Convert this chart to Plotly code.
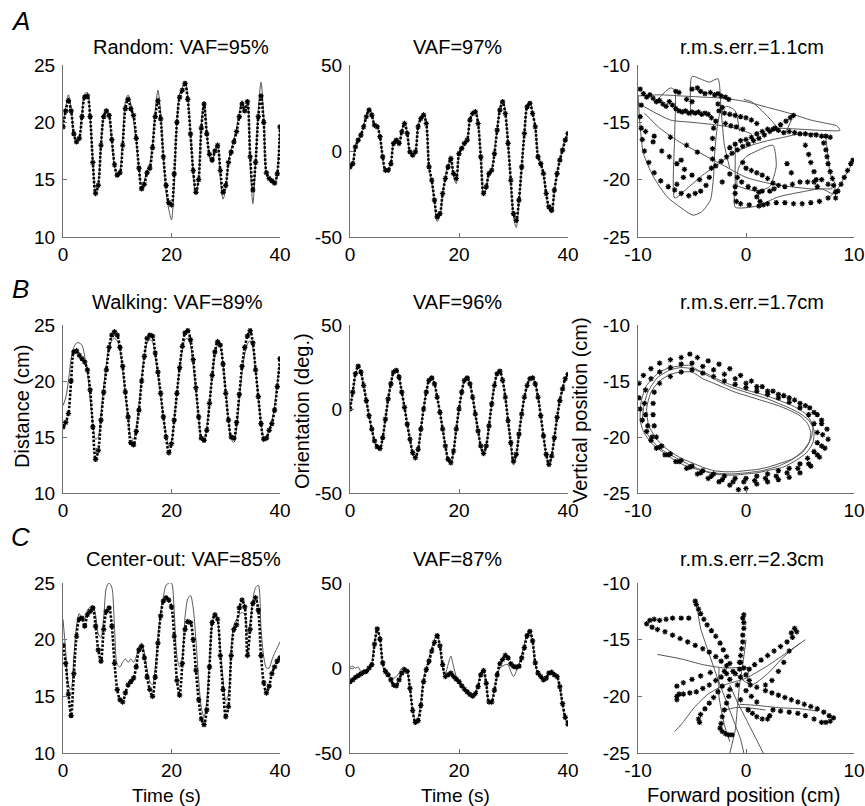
import plotly.graph_objects as go

# ---------------- DATA ----------------
TIME = [0, 0.5, 1, 1.5, 2, 2.5, 3, 3.5, 4, 4.5, 5, 5.5, 6, 6.5, 7, 7.5, 8, 8.5, 9, 9.5,
        10, 10.5, 11, 11.5, 12, 12.5, 13, 13.5, 14, 14.5, 15, 15.5, 16, 16.5, 17, 17.5, 18, 18.5, 19, 19.5,
        20, 20.5, 21, 21.5, 22, 22.5, 23, 23.5, 24, 24.5, 25, 25.5, 26, 26.5, 27, 27.5, 28, 28.5, 29, 29.5,
        30, 30.5, 31, 31.5, 32, 32.5, 33, 33.5, 34, 34.5, 35, 35.5, 36, 36.5, 37, 37.5, 38, 38.5, 39, 39.5, 40]

# Row A (Random) - distance (cm)
a_dist_meas = [19.6, 21.0, 21.9, 21.0, 19.0, 18.3, 18.6, 20.5, 22.2, 22.3, 20.5, 16.5, 13.8, 14.5, 18.0, 20.5, 21.0, 20.6, 18.5, 16.3,
               15.4, 15.6, 18.0, 21.2, 22.0, 21.2, 20.6, 18.6, 16.0, 14.2, 14.6, 15.6, 16.0, 17.8, 20.5, 21.9, 20.3, 17.0, 14.5, 13.0,
               12.8, 15.5, 20.0, 22.2, 22.8, 23.4, 22.0, 19.0, 15.8, 13.9, 15.0, 19.5, 21.6, 19.0, 17.2, 16.7, 17.5, 18.0, 15.8, 13.9,
               14.5, 16.5, 17.4, 18.3, 19.2, 20.5, 21.6, 21.0, 21.8, 17.0, 14.1, 16.5, 20.5, 22.3, 20.0, 15.6, 15.1, 14.9, 14.7, 15.5, 19.6]
a_dist_model = [19.8, 21.3, 22.4, 21.2, 19.0, 18.3, 18.7, 20.8, 22.5, 22.6, 20.5, 16.5, 14.0, 14.8, 18.0, 20.5, 21.1, 20.5, 18.3, 16.2,
                15.5, 15.8, 18.5, 21.8, 22.4, 21.6, 20.2, 18.4, 16.0, 14.5, 14.9, 15.9, 16.4, 18.0, 21.0, 22.8, 20.8, 17.0, 14.0, 12.4,
                11.5, 14.8, 20.2, 22.5, 23.0, 23.6, 22.2, 19.0, 15.5, 13.8, 15.2, 19.8, 21.8, 19.2, 17.0, 16.5, 17.6, 17.8, 15.2, 13.3,
                14.2, 16.6, 17.6, 18.5, 19.5, 20.8, 21.9, 21.2, 21.6, 16.5, 12.9, 16.5, 21.0, 23.5, 20.5, 15.4, 15.0, 14.8, 14.6, 15.6, 19.8]
# Row A - orientation (deg.)
a_ori_meas = [-9.2, -7.3, 2.4, 6.3, 9.2, 14.1, 19.9, 23.8, 20.9, 15.0, 14.1, 8.3, -3.4, -11.2, -11.2, -7.3, 4.4, 6.3, 4.4, 11.2,
              16.0, 10.2, -0.5, -2.4, -0.5, 14.1, 18.9, 20.9, 16.0, -9.2, -17.0, -28.6, -38.3, -36.4, -24.7, -16.0, -9.2, -4.4, -13.1, -16.0,
              -1.5, 1.5, 4.4, 6.3, 18.0, 21.8, 22.8, 16.0, -3.4, -24.7, -20.9, -13.1, -11.2, -1.5, 12.1, 23.8, 28.6, 21.8, 4.4, -17.0,
              -36.4, -40.3, -28.6, -9.2, 10.2, 25.7, 27.7, 21.8, 14.1, -3.4, -7.3, -13.1, -24.7, -32.5, -34.5, -22.8, -13.1, -5.3, 0.5, 6.3, 10.2]
a_ori_model = [-9.0, -7.0, 2.8, 6.8, 9.8, 14.8, 20.8, 24.8, 21.5, 15.5, 14.5, 8.0, -3.8, -11.8, -11.5, -7.0, 5.0, 6.8, 4.8, 11.8,
               16.8, 10.5, -1.0, -2.8, 0.0, 14.8, 19.5, 22.0, 16.5, -9.8, -18.0, -30.0, -41.0, -37.5, -25.0, -15.5, -8.5, -5.5, -15.0, -19.0,
               -2.5, 1.8, 4.8, 7.0, 18.5, 22.5, 23.5, 16.2, -4.0, -26.0, -21.0, -13.5, -11.0, -1.0, 12.8, 24.8, 30.0, 22.5, 4.0, -18.0,
               -38.0, -44.5, -29.5, -9.0, 11.0, 26.5, 29.0, 22.5, 14.0, -3.0, -7.5, -13.5, -25.5, -34.0, -36.0, -23.5, -13.0, -5.0, 1.0, 7.0, 11.0]
# Row A - trajectory (cm)
a_traj_meas_x = [-9.8, -9.5, -9.2, -8.9, -8.6, -8.3, -8.0, -7.7, -7.4, -7.1, -6.8, -6.5, -6.2, -5.9, -5.6, -5.3, -5.0, -4.7, -4.4, -4.1, -3.8, -3.5, -3.2,
                 -6.5, -6.2, -5.0, -4.5, -4.2, -3.8, -3.3, -2.9, -2.6, -2.3, -1.9, -1.6, -5.5, -5.0,
                 -9.7, -9.8, -9.7, -9.6, -9.4, -9.0, -8.5, -7.9, -7.2, -6.6, -6.0, -5.3, -4.7, -4.2, -3.7, -3.4, -3.2, -3.1, -3.1, -3.1, -3.0, -2.8,
                 -9.3, -8.6, -7.8, -7.1, -6.4, -5.7, -5.0, -4.3,
                 -8.5, -7.0, -6.0, -5.5, -4.5, -5.8, -6.4,
                 -2.8, -2.3, -1.8, -1.3, -0.8, -0.3, 0.2, 0.7, 1.2, 1.7, 2.2, 2.7, 3.2, 3.7, 4.1, 4.4,
                 -1.5, -1.0, -0.5, 0.0, 0.5, 1.0, 1.5, 2.0, 2.5, 3.0,
                 3.5, 4.0, 4.5, 5.0, 5.5, 6.0, 6.5, 7.0, 7.4, 7.8,
                 7.2, 7.4, 7.5, 7.6, 7.8, 8.0, 8.1, 8.3, 8.3,
                 8.8, 9.1, 9.4, 9.7, 9.9, 8.5,
                 5.5, 5.8, 6.0, 6.3, 6.5, 6.6, 3.8, 4.2,
                 -1.0, -1.0, -0.9, -0.5, 0.3, 1.2, 2.0, 2.8, 3.6, 4.4, 5.2, 6.0, 6.8, 7.6,
                 0.0, 0.5, 1.0, 1.5, 2.0, 2.5, 2.6, 2.2, 1.5, 0.8, 0.2, -0.4, -0.8,
                 1.0, 1.3, 1.6, 1.2,
                 -2.5, -2.0, -1.5, -1.0, -0.5, 0.0, -1.9, -1.4, -0.9, -0.3, 0.5, 1.0, -2.2, -2.6,
                 3.0, 3.6, 4.3, 5.0, 5.7, 6.3, 7.0, 7.6,
                 -0.3, -1.5, -2.2]
a_traj_meas_y = [-12.1, -12.5, -12.8, -12.6, -12.9, -13.2, -13.1, -13.4, -13.6, -13.2, -13.5, -13.8, -14.0, -14.1, -14.0, -14.2, -14.1, -14.2, -14.1, -14.3, -14.2, -14.3, -14.6,
                 -12.3, -12.4, -12.1, -12.0, -12.3, -12.5, -12.4, -12.6, -12.5, -12.7, -12.8, -13.0, -13.0, -13.2,
                 -13.5, -14.5, -15.5, -16.5, -17.5, -18.5, -19.4, -20.1, -20.6, -20.9, -21.2, -21.4, -21.2, -21.0, -20.5, -19.8, -19.0, -18.2, -17.3, -16.4, -15.5, -14.9,
                 -15.8, -16.7, -17.5, -18.0, -18.6, -19.1, -19.6, -20.0,
                 -16.2, -16.3, -18.3, -17.0, -17.6, -19.8, -20.4,
                 -18.8, -18.4, -18.0, -17.7, -17.4, -17.1, -16.9, -16.6, -16.4, -16.1, -15.8, -15.5, -15.2, -14.9, -14.6, -14.4,
                 -17.2, -16.9, -16.6, -16.5, -16.3, -16.0, -15.8, -15.6, -15.6, -15.7,
                 -15.9, -15.8, -15.9, -16.0, -16.0, -16.1, -16.1, -16.2, -16.2, -16.3,
                 -16.8, -17.4, -18.0, -18.6, -19.3, -19.9, -20.5, -21.1, -21.6,
                 -20.4, -19.8, -19.2, -18.6, -18.3, -21.0,
                 -17.0, -17.8, -18.5, -19.3, -20.0, -20.6, -18.6, -19.4,
                 -20.6, -21.2, -21.9, -22.1, -22.2, -22.3, -22.1, -22.0, -22.0, -22.1, -22.1, -22.0, -21.9, -21.6,
                 -19.0, -19.2, -19.4, -19.6, -19.9, -20.3, -20.8, -21.0, -21.0, -20.8, -20.6, -20.2, -19.8,
                 -21.5, -21.9, -22.2, -21.1,
                 -14.0, -14.2, -14.3, -14.4, -14.5, -14.6, -15.1, -15.3, -15.4, -15.6, -14.8, -15.1, -13.7, -13.4,
                 -20.5, -20.6, -20.4, -20.2, -20.2, -20.2, -20.0, -20.4,
                 -18.5, -19.5, -20.2]
a_traj_model_x = [-10.0, -9.8, -9.5, -8.6, -7.3, -5.8, -4.9, -4.1, -3.3, -3.0, -2.9, -2.7, -2.4, -1.8, -1.0, -0.6, None,
                  -10.0, -8.0, -6.0, -4.0, -2.0, 0.0, 2.0, 4.0, 6.0, 7.5, 8.4, 8.7, 7.0, 5.0, 3.0, None,
                  -8.5, -7.0, -6.6, -6.6, -6.6, -5.5, -4.0, -2.5, -1.0, 0.5, 2.0, 3.5, 5.0, 6.5, None,
                  -5.1, -5.0, -4.0, -3.4, -2.6, -2.3, -2.0, -1.5, None,
                  -9.5, -7.0, -5.0, -3.0, -1.0, 0.5, None,
                  -9.4, -8.0, -6.0, -4.0, -2.0, 0.0, 2.0, 4.0, 6.0, 8.0, None,
                  -1.0, -1.0, -1.0, 1.0, 3.0, 5.0, 7.0, 8.0, 8.3, 7.8, 7.6, 7.4, None,
                  -0.8, -0.7, 0.0, 1.0, 2.5, 2.8, 2.2, 1.0, 0.0, -0.8, None,
                  -0.2, 0.5, 1.5, 2.5, 3.5, 4.2, None,
                  7.5, 8.5, 9.4, 10.0]
a_traj_model_y = [-12.6, -15.4, -17.7, -19.7, -21.5, -22.6, -23.1, -22.8, -21.8, -19.7, -17.7, -15.7, -14.2, -13.6, -14.0, -15.8, None,
                  -12.7, -12.6, -12.7, -12.8, -12.9, -13.2, -13.7, -14.2, -14.8, -15.1, -15.3, -15.7, -15.7, -15.6, -15.5, None,
                  -13.3, -12.0, -12.2, -16.0, -21.6, -20.8, -19.6, -18.6, -17.6, -17.0, -16.6, -16.3, -16.0, -16.0, None,
                  -14.5, -11.0, -11.3, -11.5, -11.2, -14.0, -17.0, -19.0, None,
                  -13.6, -14.8, -15.0, -15.2, -15.5, -16.0, None,
                  -14.2, -15.5, -16.8, -17.8, -18.8, -19.8, -20.3, -20.6, -20.8, -20.8, None,
                  -17.0, -20.3, -22.4, -22.3, -21.5, -21.1, -20.8, -21.2, -20.5, -19.5, -18.0, -16.4, None,
                  -20.5, -19.0, -18.0, -17.5, -17.0, -18.8, -20.6, -21.0, -20.8, -20.5, None,
                  -13.0, -13.2, -14.0, -15.0, -16.0, -14.8, None,
                  -21.7, -20.8, -19.3, -18.3]

# Row B (Walking)
b_dist_meas = [15.9, 16.3, 17.1, 20.0, 22.6, 22.7, 22.3, 22.0, 21.7, 21.0, 19.2, 15.9, 13.0, 13.8, 16.5, 19.0, 21.0, 23.0, 24.1, 24.4,
               24.1, 23.0, 21.3, 19.0, 16.8, 14.5, 14.3, 15.5, 17.4, 20.0, 22.2, 23.8, 24.1, 24.0, 22.5, 20.8, 18.9, 16.8, 15.0, 13.6,
               14.4, 16.5, 18.9, 21.2, 23.1, 24.3, 24.5, 23.7, 21.9, 19.4, 16.8, 14.9, 14.7, 15.6, 18.0, 20.5, 22.6, 23.5, 23.2, 21.5,
               18.9, 16.5, 15.0, 14.9, 16.3, 18.8, 21.3, 23.0, 24.0, 24.5, 23.4, 21.0, 18.6, 16.2, 14.8, 14.9, 15.6, 16.2, 17.4, 19.5, 22.0]
b_dist_model = [17.8, 18.5, 20.0, 22.0, 23.0, 23.4, 23.4, 23.2, 22.2, 20.8, 18.5, 16.2, 14.8, 15.0, 17.0, 19.5, 21.5, 23.0, 23.6, 23.8,
                23.6, 22.8, 21.0, 18.8, 16.8, 15.0, 14.8, 15.8, 17.8, 20.2, 22.2, 23.4, 23.7, 23.5, 22.2, 20.5, 18.7, 16.8, 15.2, 14.2,
                14.6, 16.6, 19.0, 21.2, 22.8, 23.7, 23.8, 23.2, 21.5, 19.2, 16.8, 15.0, 14.8, 15.8, 18.0, 20.4, 22.2, 23.2, 23.0, 21.5,
                19.0, 16.5, 14.8, 14.5, 15.8, 18.4, 20.8, 22.4, 23.3, 23.6, 23.0, 21.0, 18.6, 16.3, 15.0, 15.0, 15.6, 16.4, 17.8, 19.8, 21.6]
b_ori_meas = [0, 10, 21, 25.5, 22, 14, 5, -4, -12, -19, -22.5, -23.5, -17, -6, 6, 15, 22, 23, 19, 10,
              1, -9, -18, -26, -29, -24, -12, 0, 10, 17, 18.5, 15, 7, -2, -12, -22, -30, -32, -25, -12,
              0, 10, 17, 18.5, 15, 7, -3, -13, -22, -26.5, -22, -10, 3, 14, 21, 22.5, 17, 7, -7, -20,
              -31, -27, -15, -3, 7, 14, 18, 18.5, 15, 7, -4, -16, -27, -33, -28, -17, -5, 5, 12, 18, 20.6]
b_ori_model = [0, 10, 20, 24.5, 21.5, 14, 5, -4, -12, -19, -23.5, -24.5, -17.5, -6, 6, 15, 21.5, 22.5, 19, 10,
               1, -9, -18, -26, -29.5, -24.5, -12, 0, 10, 17, 18.5, 15, 7, -2, -12, -22, -30, -32.5, -25, -12,
               0, 10, 17, 18.5, 15, 7, -3, -13, -22, -27, -22, -10, 3, 14, 21, 22.5, 17, 7, -7, -21,
               -33.5, -28, -15, -3, 7, 14, 18, 18.5, 15, 7, -4, -16, -27, -33, -28, -17, -5, 5, 12, 18, 20.6]
b_traj_meas_x = [-9.9, -9.5, -8.8, -8.0, -7.0, -6.0, -5.2, -4.5, -3.5, -2.5, -1.5, -0.5, 0.5, 1.5, 2.5, 3.5, 4.5, 5.5, 6.3, 7.0, 7.5, 7.6, 7.3, 6.8, 6.0, 5.0, 4.0, 3.0, 2.0, 1.0, 0.0, -0.7, -1.5, -2.5, -3.5, -4.5, -5.5, -6.5, -7.5, -8.3, -8.8, -9.2, -9.6, -9.8, -9.9,
                 -8.5, -8.0, -7.0, -6.0, -5.0, -4.0, -3.0, -2.0, -1.0, 0.0, 1.0, 2.0, 3.0, 4.0, 5.0, 5.8, 6.3, 6.6, 6.6, 6.3, 5.7, 5.0, 4.0, 3.0, 2.0, 1.0, 0.0, -1.0, -2.0, -3.0, -4.0, -5.0, -6.0, -7.0, -7.8, -8.3, -8.5, -8.6, -8.6,
                 -9.3, -8.8, -8.0, -7.0, -6.0, -5.0, -4.0, -3.0, -2.0, -1.0, 0.0, 1.0, 2.0, 3.0, 4.0, 5.0, 5.9, 6.6, 7.0, 7.1, 7.0, 6.6, 5.8, 4.8, 3.8, 2.8, 1.8, 0.8, -0.2, -1.2, -2.2, -3.2, -4.2, -5.2, -6.2, -7.2, -8.0, -8.7, -9.1, -9.3, -9.4]
b_traj_meas_y = [-15.2, -14.5, -13.9, -13.4, -13.1, -12.9, -12.6, -12.9, -13.2, -13.5, -13.9, -14.5, -15.0, -15.5, -15.9, -16.3, -16.7, -17.2, -17.8, -18.5, -19.3, -20.2, -21.0, -21.8, -22.6, -23.2, -23.6, -23.8, -24.0, -24.2, -24.6, -24.7, -24.3, -24.0, -23.7, -23.3, -22.8, -22.2, -21.6, -21.0, -20.3, -19.5, -18.5, -17.5, -16.5,
                 -16.0, -15.2, -14.6, -14.2, -14.0, -14.3, -14.6, -15.0, -15.3, -15.6, -15.9, -16.2, -16.5, -16.9, -17.4, -18.0, -18.8, -19.6, -20.5, -21.3, -21.9, -22.4, -22.8, -23.0, -23.3, -23.5, -23.7, -23.7, -23.5, -23.3, -23.0, -22.6, -22.1, -21.5, -20.8, -20.0, -19.0, -18.0, -17.0,
                 -15.8, -14.8, -14.2, -13.8, -13.5, -13.4, -13.7, -14.0, -14.4, -14.8, -15.2, -15.5, -15.9, -16.2, -16.5, -17.0, -17.4, -18.0, -18.8, -19.8, -20.8, -21.6, -22.4, -22.8, -23.2, -23.5, -23.7, -23.9, -24.0, -24.0, -23.8, -23.5, -23.2, -22.7, -22.2, -21.6, -20.9, -20.0, -19.0, -18.0, -17.0]
b_traj_model_x = [-9.0, -9.2, -8.8, -8.0, -7.0, -6.0, -5.0, -4.0, -3.0, -2.0, -1.0, 0.0, 1.0, 2.0, 3.0, 4.0, 5.0, 5.7, 6.0, 5.8, 5.2, 4.2, 3.0, 2.0, 1.0, 0.0, -1.0, -2.0, -3.0, -4.0, -5.0, -6.0, -7.0, -7.8, -8.4, -9.0, None,
                  -9.6, -9.5, -9.1, -8.2, -7.0, -6.0, -5.0, -4.0, -3.0, -2.0, -1.0, 0.0, 1.0, 2.0, 3.0, 4.0, 5.0, 5.8, 6.3, 6.2, 5.6, 4.6, 3.4, 2.0, 1.0, 0.0, -1.0, -2.0, -3.0, -4.0, -5.0, -6.0, -7.0, -8.0, -8.8, -9.3, None,
                  -9.8, -9.7, -9.2, -8.0, -7.0, -5.2, -4.5, -3.5, -2.5, -1.5, 0.0, 1.5, 3.0, 4.5, 5.6, 6.2, 6.0, 5.3, 4.3, 3.0, 1.5, 0.0, -1.5, -3.0, -4.5, -6.0, -7.5, -8.8, -9.5, -9.8]
b_traj_model_y = [-19.0, -17.5, -16.0, -15.0, -14.4, -14.2, -14.2, -14.8, -15.2, -15.6, -16.0, -16.3, -16.6, -16.9, -17.2, -17.6, -18.1, -18.8, -19.6, -20.6, -21.4, -22.0, -22.4, -22.7, -22.9, -23.0, -23.1, -23.1, -23.0, -22.7, -22.3, -21.9, -21.3, -20.7, -20.0, -19.0, None,
                  -18.8, -17.5, -16.0, -14.7, -14.0, -13.8, -13.9, -14.3, -14.8, -15.3, -15.7, -16.0, -16.3, -16.6, -17.0, -17.4, -17.9, -18.5, -19.4, -20.5, -21.4, -22.1, -22.7, -23.0, -23.2, -23.3, -23.4, -23.4, -23.3, -23.0, -22.6, -22.1, -21.6, -21.0, -20.2, -19.5, None,
                  -18.5, -16.8, -15.4, -14.2, -13.8, -13.6, -14.0, -14.4, -14.9, -15.3, -15.8, -16.2, -16.7, -17.3, -18.0, -19.0, -20.2, -21.2, -22.0, -22.6, -23.0, -23.2, -23.3, -23.2, -22.9, -22.4, -21.5, -20.5, -19.5, -18.5]

# Row C (Center-out)
c_dist_meas = [19.5, 17.9, 15.2, 13.3, 17.0, 20.3, 21.8, 21.9, 21.2, 22.2, 22.5, 22.8, 21.2, 19.1, 18.1, 20.9, 22.5, 22.8, 21.2, 17.9,
               15.6, 14.7, 14.5, 15.3, 16.0, 16.3, 16.6, 17.6, 19.1, 19.4, 18.4, 16.7, 15.6, 15.0, 16.7, 19.7, 22.1, 23.4, 23.7, 23.5,
               22.9, 20.3, 16.4, 15.1, 17.9, 20.9, 21.6, 21.5, 20.0, 17.3, 14.7, 13.0, 12.5, 13.8, 17.6, 21.5, 22.2, 21.8, 18.6, 15.6,
               13.2, 14.1, 18.6, 20.9, 21.3, 22.8, 23.5, 22.9, 18.6, 20.9, 23.2, 23.7, 22.6, 18.6, 16.2, 15.3, 15.9, 17.0, 17.6, 18.1, 18.4]
c_dist_model = [21.8, 19.0, 16.0, 15.6, 18.5, 21.2, 22.3, 21.8, 21.8, 22.6, 22.9, 23.0, 22.2, 20.5, 20.2, 22.0, 24.6, 25.0, 24.6, 21.0,
                17.8, 17.6, 18.0, 18.3, 18.0, 18.3, 18.0, 18.5, 19.4, 19.7, 18.8, 17.4, 16.3, 16.0, 17.5, 20.2, 22.4, 23.8, 24.8, 25.0,
                25.0, 22.5, 18.5, 17.6, 18.4, 22.0, 23.6, 23.9, 22.8, 20.0, 16.5, 14.0, 13.2, 14.5, 18.0, 21.4, 22.2, 21.6, 19.0, 16.5,
                14.6, 15.2, 19.0, 21.3, 21.8, 22.2, 22.4, 22.2, 20.5, 21.5, 23.5, 24.6, 24.8, 21.0, 18.5, 17.5, 17.5, 18.2, 18.8, 19.3, 19.8]
c_ori_meas = [-8, -7, -5.5, -4.5, -3.5, -2.5, -2, 0, 2, 14, 23, 17, 3, -2, -4, -7, -10, -10.5, -7, -3,
              -1, -2, -12, -25, -32, -31, -22, -8, -1, 4, 10, 15, 19, 13, 2, -5, -4, -3, -5, -6.5,
              -8, -10.5, -12.5, -14, -15.5, -16.5, -15, -11, -4, -1.5, -9, -20, -20, -13, -4, 2.5, 5, 7.5, 6, 2.5,
              1, 0.5, 1, 6, 12, 19, 21.5, 16, 3, -3, -5, -7, -6, -3, -2.5, -4, -5, -11, -21, -29, -33]
c_ori_model = [0.5, 1, 0, 0.5, -2, -1.5, -1, 0, 3, 15, 22, 18, 2, -4, -5, -5.5, -6, -5, -3, 0,
               0.5, -2, -12, -25, -31, -29, -20, -6, 0, 6, 12, 17, 19.5, 12, 0, -3, 2, 7, 1, -5,
               -8, -10, -12, -14, -15, -16, -14, -10, -3, -2, -10, -20, -19, -12, -5, 0, 1, 2, 2, -2,
               -5, -2, 2, 8, 14, 20, 21, 15, 2, -3, -5, -7, -6, -3, -2.5, -4, -6, -12, -22, -30, -33]
c_traj_meas_x = [-9.2, -8.9, -8.5, -8.0, -7.4, -6.8, -6.0, -5.3,
                 -8.7, -8.2, -7.5, -6.8, -6.1, -5.4, -4.7, -4.0, -3.4, -2.8, -2.3, -1.8,
                 -4.7, -4.6, -4.4, -4.2, -3.9, -3.6, -3.2, -2.8, -2.4, -2.1, -1.8, -1.5,
                 -0.2, -0.3, -0.2, -0.2, -0.3, -0.3, -0.4, -0.5, -0.6, -0.6,
                 4.7, 4.5, 4.2, 4.3, 3.8, 3.2, 2.6, 2.0, 1.4, 0.8, 0.3,
                 4.0, 3.5, 3.0, 2.4, 1.8, 1.0, 0.4,
                 8.1, 7.8, 7.4, 7.0, 7.7, 7.2, 6.6, 6.0, 5.4, 4.8, 4.2, 3.6, 3.0, 2.4, 1.8,
                 6.3, 5.5, 4.8, 4.0, 3.2, 2.5,
                 1.0, 1.5, 2.0, 2.2, 0.6, 0.2,
                 -6.4, -6.4, -6.2, -5.8, -5.2, -4.6, -4.0, -3.4, -2.8, -2.3, -1.8,
                 -6.4, -5.8, -5.0, -4.2, -3.3,
                 -4.3, -4.4, -4.2, -3.8, -3.4, -3.0, -2.6, -2.2,
                 -1.9, -2.2, -2.4, -2.3, -2.2, -2.0, -1.8, -1.6, -1.5, -1.3, -1.6,
                 -1.0, -0.5, 0.0, -1.5, -0.8, -0.2, -1.2, -2.0, -0.5, 0.3, 0.0, -0.5, 0.5, 1.0]
c_traj_meas_y = [-13.6, -13.3, -13.2, -13.3, -13.2, -13.1, -13.1, -13.1,
                 -13.9, -14.1, -14.3, -14.6, -14.9, -15.2, -15.5, -15.8, -16.1, -16.5, -16.9, -17.3,
                 -11.6, -11.9, -12.3, -12.7, -13.2, -13.7, -14.2, -14.7, -15.3, -15.9, -16.5, -17.1,
                 -12.8, -13.1, -13.5, -14.0, -14.6, -15.2, -15.8, -16.4, -17.0, -17.6,
                 -14.3, -14.0, -14.4, -14.8, -15.2, -15.6, -16.0, -16.4, -16.8, -17.2, -17.6,
                 -16.0, -17.0, -17.8, -18.6, -19.0, -19.2, -19.0,
                 -21.9, -22.2, -22.3, -22.3, -21.7, -21.4, -21.1, -20.9, -20.7, -20.5, -20.3, -20.1, -19.9, -19.7, -19.5,
                 -22.0, -21.7, -21.5, -21.4, -21.3, -21.2,
                 -21.8, -22.0, -22.0, -21.7, -21.5, -21.2,
                 -20.3, -20.0, -19.8, -19.8, -19.7, -19.6, -19.3, -19.0, -18.6, -18.3, -18.0,
                 -19.1, -18.8, -18.5, -18.2, -17.9,
                 -22.3, -22.0, -21.6, -21.1, -20.6, -20.1, -19.6, -19.1,
                 -23.3, -23.1, -22.8, -22.4, -21.8, -21.2, -20.6, -20.0, -19.4, -23.4, -23.4,
                 -18.0, -18.3, -18.1, -18.5, -19.0, -17.5, -17.8, -17.8, -17.0, -18.6, -19.5, -20.3, -20.0, -20.5]
c_traj_model_x = [-8.2, -6.0, -4.0, -2.0, 0.2, 0.2, None,
                  -4.5, -4.2, -3.5, -2.6, -1.8, -1.0, -0.5, -0.2, None,
                  -6.6, -6.0, -4.8, -3.5, -2.0, 0.0, 2.0, 4.0, 5.5, None,
                  -0.6, 1.0, 3.0, 5.0, 6.6, None,
                  -2.2, -1.0, 0.0, 1.8, None,
                  -1.5, -1.0, -0.8, -0.6, -0.4, -0.2, 0.0, None,
                  1.6, 0.8, 0.0, -0.8, -1.5, None,
                  -1.0, 0.5, 2.0, 3.5, 5.0, None,
                  -2.5, -2.5, -2.0, -1.5]
c_traj_model_y = [-16.3, -16.7, -17.2, -17.5, -17.5, -18.0, None,
                  -12.3, -14.0, -16.0, -18.5, -20.5, -22.5, -23.8, -25.0, None,
                  -23.1, -22.5, -21.0, -19.8, -19.0, -18.4, -17.3, -16.0, -15.0, None,
                  -20.7, -20.8, -21.0, -21.1, -21.3, None,
                  -21.3, -21.0, -21.0, -21.2, None,
                  -25.0, -23.0, -21.0, -19.0, -17.8, -16.5, -15.0, None,
                  -25.0, -23.5, -22.0, -20.5, -19.0, None,
                  -18.0, -19.0, -18.0, -16.5, -15.3, None,
                  -17.5, -20.0, -22.5, -24.0]

TITLES = [["Random: VAF=95%", "VAF=97%", "r.m.s.err.=1.1cm"],
          ["Walking: VAF=89%", "VAF=96%", "r.m.s.err.=1.7cm"],
          ["Center-out: VAF=85%", "VAF=87%", "r.m.s.err.=2.3cm"]]
ROW_LETTERS = ["A", "B", "C"]

TIME_TICKS = [0, 20, 40]
TIME_TICK_TEXT = ["0", "20", "40"]
DIST_TICKS = [10, 15, 20, 25]
DIST_TICK_TEXT = ["10", "15", "20", "25"]
ORI_TICKS = [-50, 0, 50]
ORI_TICK_TEXT = ["-50", "0", "50"]
FWD_TICKS = [-10, 0, 10]
FWD_TICK_TEXT = ["-10", "0", "10"]
VERT_TICKS = [-25, -20, -15, -10]
VERT_TICK_TEXT = ["-25", "-20", "-15", "-10"]

# ---------------- LAYOUT / STYLE ----------------
W, H = 865, 806
FONT = "Liberation Sans, Arial, Helvetica, sans-serif"
COLS_PX = [(63, 280), (350, 568), (638, 854)]
ROWS_PX = [(65, 237), (325, 493), (583, 753)]

def xd(p):
    return p / W

def yd(p):
    return 1 - p / H

fig = go.Figure()

MEAS_MARK = dict(symbol="asterisk-open", size=4.5, color="black", line=dict(width=1.2, color="black"))
MODEL_LINE = dict(color="#555555", width=1)

ts_data = [[(a_dist_meas, a_dist_model), (a_ori_meas, a_ori_model)],
           [(b_dist_meas, b_dist_model), (b_ori_meas, b_ori_model)],
           [(c_dist_meas, c_dist_model), (c_ori_meas, c_ori_model)]]
traj_data = [(a_traj_meas_x, a_traj_meas_y, a_traj_model_x, a_traj_model_y),
             (b_traj_meas_x, b_traj_meas_y, b_traj_model_x, b_traj_model_y),
             (c_traj_meas_x, c_traj_meas_y, c_traj_model_x, c_traj_model_y)]

layout_axes = {}
for r in range(3):
    for c in range(3):
        k = r * 3 + c + 1
        xa = "x" if k == 1 else f"x{k}"
        ya = "y" if k == 1 else f"y{k}"
        if c < 2:
            meas, model = ts_data[r][c]
            fig.add_trace(go.Scatter(x=TIME, y=model, mode="lines", line=dict(shape="spline", smoothing=0.8, **MODEL_LINE),
                                     xaxis=xa, yaxis=ya, showlegend=False, hoverinfo="skip"))
            fig.add_trace(go.Scatter(x=TIME, y=meas, mode="lines+markers",
                                     line=dict(shape="spline", smoothing=0.8, color="black", width=2.6, dash="2.4px,1.6px"),
                                     marker=MEAS_MARK, xaxis=xa, yaxis=ya, showlegend=False))
        else:
            mx, my, lx, ly = traj_data[r]
            fig.add_trace(go.Scatter(x=lx, y=ly, mode="lines", line=dict(shape="spline", smoothing=0.6, **MODEL_LINE),
                                     connectgaps=False, xaxis=xa, yaxis=ya, showlegend=False, hoverinfo="skip"))
            fig.add_trace(go.Scatter(x=mx, y=my, mode="markers", marker=MEAS_MARK,
                                     xaxis=xa, yaxis=ya, showlegend=False))

        x0, x1 = COLS_PX[c]
        y0, y1 = ROWS_PX[r]
        common = dict(showline=True, linecolor="#707070", linewidth=1, ticks="inside", ticklen=4,
                      tickcolor="#707070", showgrid=False, zeroline=False, mirror=False, automargin=False,
                      tickfont=dict(family=FONT, size=19, color="black"))
        if c < 2:
            xr, xt, xtt = [0, 40], TIME_TICKS, TIME_TICK_TEXT
            if c == 0:
                yr, yt, ytt = [10, 25], DIST_TICKS, DIST_TICK_TEXT
            else:
                yr, yt, ytt = [-50, 50], ORI_TICKS, ORI_TICK_TEXT
        else:
            xr, xt, xtt = [-10, 10], FWD_TICKS, FWD_TICK_TEXT
            yr, yt, ytt = [-25, -10], VERT_TICKS, VERT_TICK_TEXT
        layout_axes["xaxis" if k == 1 else f"xaxis{k}"] = dict(
            domain=[xd(x0), xd(x1)], range=xr, tickvals=xt, ticktext=xtt, anchor=ya, **common)
        layout_axes["yaxis" if k == 1 else f"yaxis{k}"] = dict(
            domain=[yd(y1), yd(y0)], range=yr, tickvals=yt, ticktext=ytt, anchor=xa, ticklabelstandoff=3, **common)

fig.update_layout(template="none")
fig.update_layout(**layout_axes)

ann = []
TITLE_X = [[181, 457, 752], [177, 457, 752], [183, 457, 752]]
TITLE_Y = [47, 302, 559]
for r in range(3):
    for c in range(3):
        ann.append(dict(text=TITLES[r][c], x=xd(TITLE_X[r][c]), y=yd(TITLE_Y[r]), xref="paper", yref="paper",
                        xanchor="center", yanchor="middle", showarrow=False,
                        font=dict(family=FONT, size=20, color="black")))
LETTER_Y = [21, 289, 537]
for r in range(3):
    ann.append(dict(text=f"<i>{ROW_LETTERS[r]}</i>", x=xd(20), y=yd(LETTER_Y[r]), xref="paper", yref="paper",
                    xanchor="center", yanchor="middle", showarrow=False,
                    font=dict(family=FONT, size=26, color="black")))
# axis titles
for text, x, y, rot in [("Distance (cm)", 22, 407, -90), ("Orientation (deg.)", 302, 411, -90),
                        ("Vertical position (cm)", 580, 410, -90)]:
    ann.append(dict(text=text, x=xd(x), y=yd(y), xref="paper", yref="paper", textangle=rot,
                    xanchor="center", yanchor="middle", showarrow=False,
                    font=dict(family=FONT, size=20, color="black")))
for text, x, y in [("Time (s)", 166, 795), ("Time (s)", 456, 795), ("Forward position (cm)", 743, 795)]:
    ann.append(dict(text=text, x=xd(x), y=yd(y), xref="paper", yref="paper",
                    xanchor="center", yanchor="middle", showarrow=False,
                    font=dict(family=FONT, size=19 if text == "Time (s)" else 20, color="black")))

fig.update_layout(width=W, height=H, margin=dict(l=0, r=0, t=0, b=0, pad=0, autoexpand=False),
                  paper_bgcolor="white", plot_bgcolor="white", annotations=ann, showlegend=False)

fig.write_html("out.html", config={"displayModeBar": False},
               post_script="document.body.style.margin='0px';document.body.style.overflow='hidden';")
